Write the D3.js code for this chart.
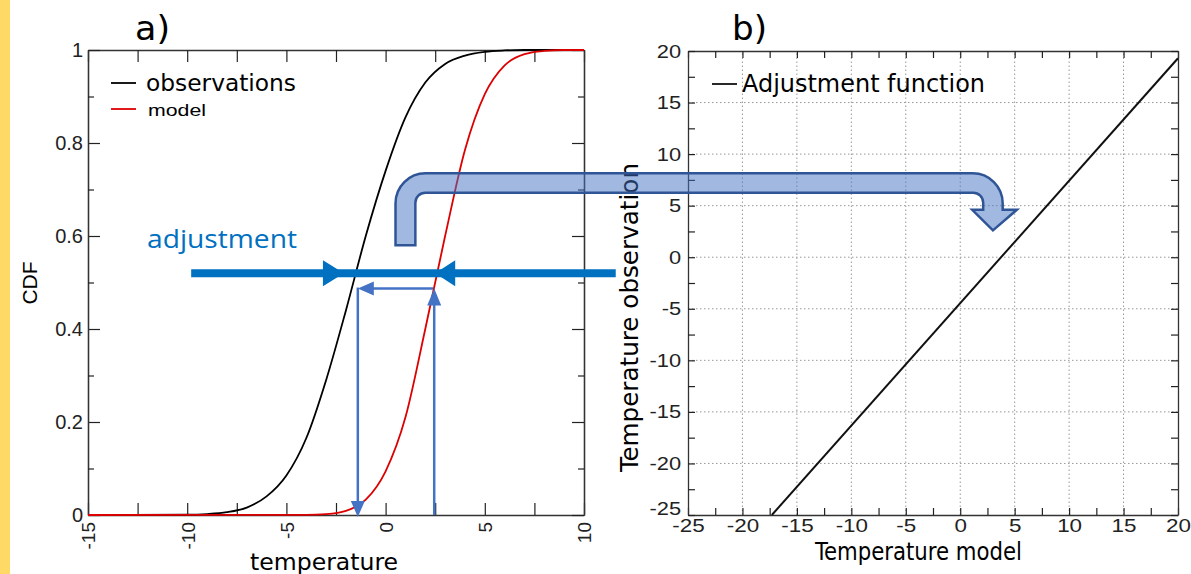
<!DOCTYPE html>
<html><head><meta charset="utf-8">
<script src="https://cdn.jsdelivr.net/npm/d3@7"></script>
<style>
body{margin:0;background:#fff}
svg{display:block}
.cond{font-family:'DejaVu Sans Condensed','DejaVu Sans',sans-serif;font-stretch:condensed}
.hel{font-family:'Liberation Sans',Arial,sans-serif}
</style>
</head><body>
<svg id="c" width="1191" height="574"></svg>
<script>
// ---- data ----
const obsTemp  = [-15,-10,-9,-8,-7,-6,-5,-4,-3,-2,-1,0,1,2,3,4,5,6,7,10];
const obsCdf   = [0,0.0005,0.002,0.006,0.016,0.04,0.085,0.165,0.29,0.44,0.6,0.74,0.855,0.93,0.97,0.988,0.996,0.999,1,1];
const modelTemp = [-15,-4,-3,-2,-1,0,1,2,3,4,5,6,7,8,9,10];
const modelCdf  = [0,0.0003,0.002,0.009,0.033,0.094,0.21,0.40,0.60,0.785,0.905,0.967,0.991,0.998,1,1];
const adjModel = [-17.3, 20];
const adjObs   = [-25, 19.3];
const cdfTicks = [0,0.2,0.4,0.6,0.8,1];
const cdfLabels = ["0","0.2","0.4","0.6","0.8","1"];
const tempTicksA = [-15,-10,-5,0,5,10];
const tempTicksB = [-25,-20,-15,-10,-5,0,5,10,15,20];
// annotation anchors (data units)
const adjLevel = 0.52, thinLevel = 0.487, obsQ = -1.4, modelQ = 2.45;

const svg = d3.select("#c");
svg.append("rect").attr("x",0).attr("y",0).attr("width",10).attr("height",574).attr("fill","#FFD966");

// ---- scales ----
const xA = d3.scaleLinear([-15,10],[88,584]);
const yA = d3.scaleLinear([0,1],[515,50]);
const xB = d3.scaleLinear([-25,20],[688,1178]);
const yB = d3.scaleLinear([-25,20],[515,51]);

function styleAxis(g){
  g.selectAll("path.domain").attr("stroke","#333").attr("stroke-width",1.3);
  g.selectAll(".tick line").attr("stroke","#222").attr("stroke-width",1.2);
  g.selectAll("text").attr("fill","#222");
}
function label(sel, txt, size, width){
  const t = sel.attr("font-size",size).text(txt);
  if (width) t.attr("textLength",width).attr("lengthAdjust","spacingAndGlyphs");
  return t;
}

// ===== Panel a =====
const gA = svg.append("g");
const minorA = d3.range(-15,10.01,2.5);
gA.append("g").attr("transform","translate(0,515)")
  .call(d3.axisBottom(xA).tickValues(minorA).tickSize(-12).tickSizeOuter(0)
        .tickFormat(d=> tempTicksA.includes(d) ? String(d) : ""))
  .call(g=>{g.attr("font-size",19).attr("class","hel");
    g.selectAll("text").attr("transform","rotate(-90)").attr("x",-7).attr("y",0).attr("dy","0.36em").attr("text-anchor","end");})
  .call(styleAxis);
gA.append("g").attr("transform","translate(0,50)")
  .call(d3.axisTop(xA).tickValues(minorA).tickSize(-12).tickSizeOuter(0).tickFormat(""))
  .call(styleAxis);
gA.append("g").attr("transform","translate(88,0)")
  .call(d3.axisLeft(yA).tickValues(cdfTicks).tickSize(-12).tickSizeOuter(0).tickFormat((d,i)=>cdfLabels[i]))
  .call(g=>{g.attr("font-size",20).attr("class","hel"); g.selectAll("text").attr("x",-5);})
  .call(styleAxis);
gA.append("g").attr("transform","translate(88,0)")
  .call(d3.axisLeft(yA).tickValues([0.1,0.3,0.5,0.7,0.9]).tickSize(-6).tickSizeOuter(0).tickFormat(""))
  .call(styleAxis);
gA.append("g").attr("transform","translate(584,0)")
  .call(d3.axisRight(yA).tickValues(cdfTicks).tickSize(-12).tickSizeOuter(0).tickFormat(""))
  .call(styleAxis);
gA.append("g").attr("transform","translate(584,0)")
  .call(d3.axisRight(yA).tickValues([0.1,0.3,0.5,0.7,0.9]).tickSize(-6).tickSizeOuter(0).tickFormat(""))
  .call(styleAxis);

const lineA = d3.line().x(d=>xA(d[0])).y(d=>yA(d[1])).curve(d3.curveMonotoneX);
gA.append("path").datum(obsTemp.map((t,i)=>[t,obsCdf[i]])).attr("d",lineA)
  .attr("fill","none").attr("stroke","#000").attr("stroke-width",1.8);
gA.append("path").datum(modelTemp.map((t,i)=>[t,modelCdf[i]])).attr("d",lineA)
  .attr("fill","none").attr("stroke","#dd0000").attr("stroke-width",1.8);

// legend a
gA.append("line").attr("x1",111).attr("x2",136).attr("y1",83).attr("y2",83).attr("stroke","#000").attr("stroke-width",1.8);
label(gA.append("text").attr("class","cond").attr("x",146).attr("y",83).attr("dy","0.35em"), "observations", 23, 150);
gA.append("line").attr("x1",111).attr("x2",136).attr("y1",109).attr("y2",109).attr("stroke","#dd0000").attr("stroke-width",1.8);
label(gA.append("text").attr("class","hel").attr("x",148).attr("y",110).attr("dy","0.35em"), "model", 17, 58);

// axis titles a
label(svg.append("text").attr("class","cond").attr("x",250).attr("y",562).attr("dy","0.35em"), "temperature", 23, 148);
svg.append("text").attr("class","hel").attr("transform","translate(30,283) rotate(-90)").attr("dy","0.35em").attr("text-anchor","middle").attr("font-size",21).text("CDF");
label(svg.append("text").attr("class","cond").attr("x",135).attr("y",40), "a)", 34, 35);

// ===== Panel b =====
const gB = svg.append("g");
const gridVals = tempTicksB.filter(v=>v>-25 && v<20);
gB.append("g").selectAll("line.gx").data(gridVals).join("line")
  .attr("x1",d=>xB(d)).attr("x2",d=>xB(d)).attr("y1",yB(-25)).attr("y2",yB(20))
  .attr("stroke","#999").attr("stroke-width",1).attr("stroke-dasharray","1.5,2.5");
gB.append("g").selectAll("line.gy").data(gridVals).join("line")
  .attr("y1",d=>yB(d)).attr("y2",d=>yB(d)).attr("x1",xB(-25)).attr("x2",xB(20))
  .attr("stroke","#999").attr("stroke-width",1).attr("stroke-dasharray","1.5,2.5");
const minorB = d3.range(-25,20.01,2.5);
gB.append("g").attr("transform","translate(0,515)")
  .call(d3.axisBottom(xB).tickValues(minorB).tickSize(-7).tickSizeOuter(0)
     .tickFormat(d=> tempTicksB.includes(d) ? String(d) : ""))
  .call(g=>{g.attr("font-size",19).attr("class","hel"); g.selectAll("text").attr("y",4).attr("transform","scale(1.18,1)");})
  .call(styleAxis);
gB.append("g").attr("transform","translate(0,51)")
  .call(d3.axisTop(xB).tickValues(minorB).tickSize(-7).tickSizeOuter(0).tickFormat(""))
  .call(styleAxis);
gB.append("g").attr("transform","translate(688,0)")
  .call(d3.axisLeft(yB).tickValues(minorB).tickSize(-7).tickSizeOuter(0)
     .tickFormat(d=> tempTicksB.includes(d) ? String(d) : ""))
  .call(g=>{g.attr("font-size",19).attr("class","hel"); g.selectAll("text").attr("x",-6).attr("transform","scale(1.15,1)");
    g.selectAll(".tick").filter(d=>d===-25).select("text").attr("dy","-0.05em");})
  .call(styleAxis);
gB.append("g").attr("transform","translate(1178,0)")
  .call(d3.axisRight(yB).tickValues(minorB).tickSize(-7).tickSizeOuter(0).tickFormat(""))
  .call(styleAxis);

const lineB = d3.line().x(d=>xB(d[0])).y(d=>yB(d[1]));
gB.append("path").datum(adjModel.map((t,i)=>[t,adjObs[i]])).attr("d",lineB)
  .attr("fill","none").attr("stroke","#111").attr("stroke-width",2);
gB.append("line").attr("x1",712).attr("x2",737).attr("y1",84).attr("y2",84).attr("stroke","#111").attr("stroke-width",1.8);
label(gB.append("text").attr("class","cond").attr("x",742).attr("y",84).attr("dy","0.35em"), "Adjustment  function", 24, 243);

label(svg.append("text").attr("class","cond").attr("x",815).attr("y",552).attr("dy","0.35em"), "Temperature  model", 24, 207);
label(svg.append("text").attr("class","cond").attr("transform","translate(630,472) rotate(-90)").attr("dy","0.35em"), "Temperature  observation", 24, 309);
label(svg.append("text").attr("class","cond").attr("x",732).attr("y",40), "b)", 34, 35);

// ===== annotations =====
const thin = "#4472C4", thick = "#0070C0";
const ann = svg.append("g");
// thin arrows
const xm = xA(modelQ), xo = xA(obsQ), yt = yA(thinLevel);
ann.append("line").attr("x1",xm).attr("x2",xm).attr("y1",yA(0)).attr("y2",yt+14).attr("stroke",thin).attr("stroke-width",2.5);
ann.append("path").attr("d",`M${xm-7},${yt+17}L${xm+7},${yt+17}L${xm},${yt}Z`).attr("fill",thin);
ann.append("line").attr("x1",xm-1).attr("x2",xo+14).attr("y1",yt).attr("y2",yt).attr("stroke",thin).attr("stroke-width",2.5);
ann.append("path").attr("d",`M${xo+16},${yt-7}L${xo+16},${yt+7}L${xo},${yt}Z`).attr("fill",thin);
ann.append("line").attr("x1",xo).attr("x2",xo).attr("y1",yt-1).attr("y2",yA(0)-12).attr("stroke",thin).attr("stroke-width",2.5);
ann.append("path").attr("d",`M${xo-7},${yA(0)-14}L${xo+7},${yA(0)-14}L${xo},${yA(0)+2}Z`).attr("fill",thin);
// thick adjustment arrow
const ya = yA(adjLevel), xl = xA(-2.1), xr = xA(2.5);
ann.append("line").attr("x1",xA(-9.8)).attr("x2",xA(11.6)).attr("y1",ya).attr("y2",ya).attr("stroke",thick).attr("stroke-width",8);
ann.append("path").attr("d",`M${xl-21},${ya-13}L${xl},${ya}L${xl-21},${ya+13}Z`).attr("fill",thick);
ann.append("path").attr("d",`M${xr+20},${ya-13}L${xr},${ya}L${xr+20},${ya+13}Z`).attr("fill",thick);
label(ann.append("text").attr("x",147).attr("y",248).attr("fill",thick).attr("font-family","'Open Sans','Noto Sans',sans-serif"), "adjustment", 25, 150);

// bent arrow linking the panels
const sL = xA(0.5), sR = xA(1.5), sB = yA(0.58);
const bT = yA(0.735), bBt = bT + 19.5;
const rO = xB(3.9), rI = rO - 19.5;
const hY = yB(4.6), hL = xB(1.1), hR = xB(5.2), tipX = (rO + rI)/2, tipY = yB(2.6);
const R = 30, r = 10;
const p = `M${sL},${sB} L${sL},${bT+R} A${R},${R} 0 0 1 ${sL+R},${bT} L${rO-R},${bT} A${R},${R} 0 0 1 ${rO},${bT+R}
 L${rO},${hY} L${hR},${hY} L${tipX},${tipY} L${hL},${hY} L${rI},${hY} L${rI},${bBt+r} A${r},${r} 0 0 0 ${rI-r},${bBt}
 L${sR+r},${bBt} A${r},${r} 0 0 0 ${sR},${bBt+r} L${sR},${sB} Z`;
ann.append("path").attr("d",p).attr("fill","rgba(68,114,196,0.5)").attr("stroke","#2F5597").attr("stroke-width",2.5).attr("stroke-linejoin","miter");
</script>
</body></html>
